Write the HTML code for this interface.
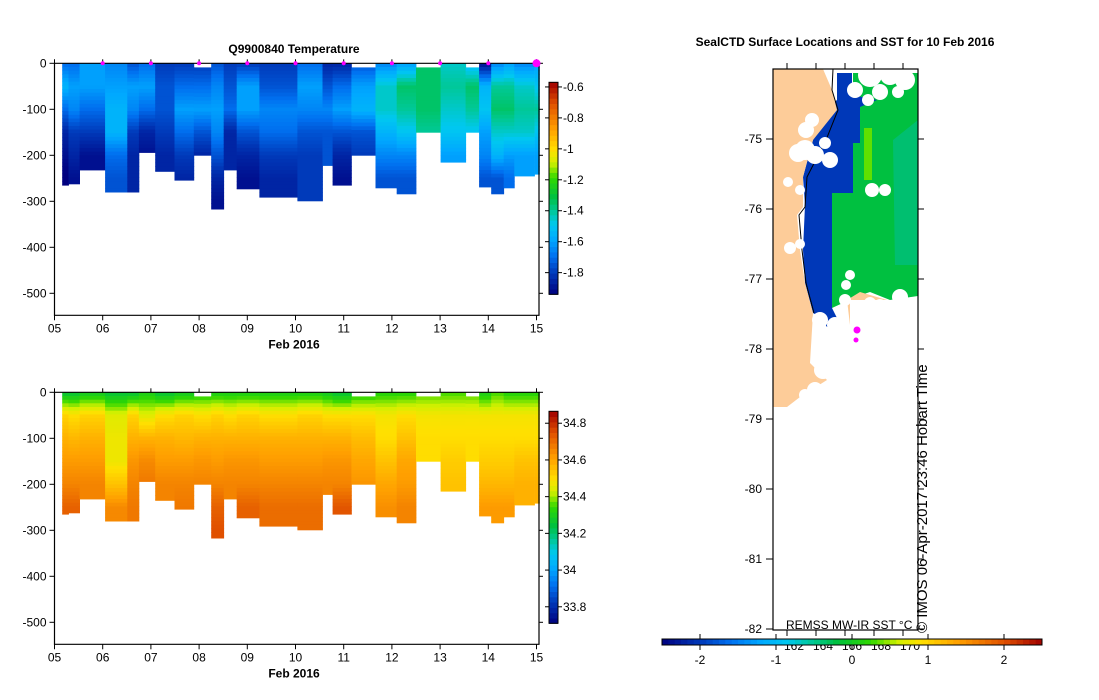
<!DOCTYPE html>
<html><head><meta charset="utf-8">
<style>
body{margin:0;background:#fff;}
svg{display:block;font-family:"Liberation Sans",sans-serif;}
</style></head>
<body>
<svg id="chart" width="1099" height="700" viewBox="0 0 1099 700" xmlns="http://www.w3.org/2000/svg">
<rect x="0" y="0" width="1099" height="700" fill="#fff"/>
<text x="294" y="53" font-size="12" font-weight="bold" text-anchor="middle">Q9900840  Temperature</text>
<text x="845" y="46" font-size="12" font-weight="bold" text-anchor="middle">SealCTD Surface Locations and SST for 10 Feb 2016</text>
<g id="temp-plot"></g>
<g id="sal-plot"></g>
<g id="map">
  <rect x="773" y="69" width="145" height="561" fill="#fff"/>
  <polygon fill="#00c040" points="853,73 918,73 918,296 890,300 870,292 858,296 832,308 832,193 853,193"/>
  <polygon fill="#00bf70" points="893,140 918,120 918,265 895,265"/>
  <polygon fill="#60e000" points="864,128 872,128 872,180 864,180"/>
  <polygon fill="#0038b8" points="837,73 852,73 852,95 877,100 860,107 860,143 853,143 853,193 832,193 832,308 837,318 833,327 827,327 820,317 813,313 805,283 803,250 805,205 803,177 813,140 823,110 837,100"/>
  <polygon fill="#fdcc99" points="773,69 823,69 832,90 837,110 813,140 803,177 803,207 797,215 800,250 805,283 813,313 810,363 827,380 800,397 787,407 773,407"/>
  <polygon fill="#fdcc99" points="847,300 860,292 887,300 885,320 870,327 850,325"/>
  <polyline fill="none" stroke="#000" stroke-width="1" points="833,69 832,90 838,110 826,140 807,177 805,207 799,215 802,250 806,283 814,313"/>
  <g id="clouds" fill="#fff"></g>
  <circle cx="857" cy="330" r="3.5" fill="#ff00ff"/>
  <circle cx="856" cy="340" r="2.5" fill="#ff00ff"/>
  <rect x="773" y="69" width="145" height="561" fill="none" stroke="#000" stroke-width="1.2"/>
  <text x="786" y="629" font-size="12">REMSS MW-IR SST °C</text>
  <text transform="translate(927,633) rotate(-90)" font-size="15">© IMOS 06-Apr-2017 23:46 Hobart Time</text>
</g>
<g id="sst-cbar"></g>
</svg>
<script>
// ---- data ----
const depthLevels = [0,50,100,150,200,250,300];
const colStart = [0.16,0.29,0.52,1.05,1.51,1.75,2.09,2.49,2.89,3.25,3.51,3.78,4.25,5.04,5.56,5.77,6.16,6.66,7.10,7.50,8.01,8.53,8.81,9.06,9.32,9.54,9.96];
const colEnd   = [0.29,0.52,1.05,1.51,1.75,2.09,2.49,2.89,3.25,3.51,3.78,4.25,5.04,5.56,5.77,6.16,6.66,7.10,7.50,8.01,8.53,8.81,9.06,9.32,9.54,9.96,10.06];
const colTop   = [0,0,0,0,0,0,0,0,9,0,0,0,0,0,0,0,9,0,0,9,0,9,0,0,0,0,0];
const colBottom= [265,262,232,280,280,194,235,254,200,317,232,273,291,299,222,265,200,271,284,150,215,150,269,284,271,245,241];
const tempProfiles = [
[-1.7,-1.55,-1.7,-1.85,-1.9,-1.95],[-1.7,-1.6,-1.65,-1.8,-1.85,-1.9],[-1.6,-1.6,-1.7,-1.8,-1.9],
[-1.65,-1.6,-1.55,-1.55,-1.7,-1.75],[-1.75,-1.6,-1.65,-1.8,-1.85,-1.85],[-1.7,-1.6,-1.7,-1.85,-1.9],
[-1.8,-1.75,-1.75,-1.8,-1.85],[-1.8,-1.7,-1.6,-1.7,-1.8,-1.85],[-1.8,-1.7,-1.6,-1.75,-1.85],
[-1.75,-1.65,-1.6,-1.65,-1.75,-1.85,-1.9],[-1.8,-1.75,-1.7,-1.85,-1.85],[-1.8,-1.6,-1.6,-1.75,-1.85,-1.9],
[-1.8,-1.75,-1.65,-1.7,-1.8,-1.85],[-1.7,-1.6,-1.65,-1.75,-1.8,-1.8],[-1.85,-1.75,-1.65,-1.75,-1.75],
[-1.85,-1.7,-1.6,-1.75,-1.85,-1.9],[-1.75,-1.6,-1.55,-1.75,-1.8],[-1.65,-1.45,-1.45,-1.55,-1.65,-1.75],
[-1.6,-1.35,-1.4,-1.5,-1.65,-1.75],[-1.35,-1.35,-1.35,-1.4],[-1.45,-1.4,-1.45,-1.5,-1.6],
[-1.55,-1.35,-1.4,-1.5],[-1.9,-1.55,-1.5,-1.6,-1.65,-1.75],[-1.65,-1.4,-1.35,-1.45,-1.55,-1.75],
[-1.6,-1.4,-1.35,-1.45,-1.6,-1.7],[-1.65,-1.45,-1.4,-1.45,-1.6],[-1.6,-1.5,-1.4,-1.5,-1.6]];
const salProfiles = [
[34.25,34.52,34.58,34.62,34.66,34.72],[34.25,34.5,34.57,34.62,34.66,34.72],[34.28,34.52,34.58,34.62,34.66],
[34.25,34.45,34.47,34.47,34.55,34.65],[34.25,34.52,34.58,34.63,34.66,34.68],[34.3,34.45,34.58,34.65,34.68],
[34.25,34.5,34.58,34.62,34.66],[34.28,34.52,34.57,34.62,34.66,34.68],[34.3,34.5,34.58,34.63,34.66],
[34.3,34.52,34.58,34.62,34.66,34.72,34.75],[34.3,34.5,34.58,34.63,34.66],[34.3,34.52,34.58,34.63,34.66,34.72],
[34.3,34.5,34.58,34.62,34.66,34.7],[34.3,34.52,34.58,34.62,34.66,34.7],[34.28,34.5,34.58,34.63,34.66],
[34.25,34.5,34.58,34.63,34.66,34.74],[34.3,34.5,34.56,34.6,34.63],[34.32,34.48,34.5,34.55,34.6,34.64],
[34.32,34.5,34.55,34.6,34.62,34.66],[34.35,34.48,34.5,34.5],[34.35,34.48,34.5,34.53,34.55],
[34.35,34.48,34.5,34.5],[34.3,34.48,34.5,34.53,34.57,34.62],[34.35,34.48,34.5,34.53,34.57,34.62],
[34.32,34.48,34.5,34.53,34.57,34.62],[34.32,34.48,34.5,34.55,34.58],[34.32,34.48,34.5,34.55,34.58]];
const dayLabels = ["05","06","07","08","09","10","11","12","13","14","15"];
const depthTicks = [0,-100,-200,-300,-400,-500];
const tempTicks = [-0.6,-0.8,-1,-1.2,-1.4,-1.6,-1.8];
const salTicks = [34.8,34.6,34.4,34.2,34,33.8];
const sstTicks = [-2,-1,0,1,2];
const latTicks = [-75,-76,-77,-78,-79,-80,-81,-82];
const lonLabels = ["162","164","166","168","170"];
const seaLocDays = [1,2,3,4,5,6,7,8,9,10];

const NS="http://www.w3.org/2000/svg";
const stops=[[0,"#00007f"],[0.1,"#0038b8"],[0.18,"#0070f0"],[0.26,"#00a8ff"],[0.33,"#00c8f0"],[0.40,"#00c890"],[0.46,"#00c040"],[0.55,"#30d800"],[0.62,"#d0f000"],[0.68,"#ffe000"],[0.78,"#ffa000"],[0.9,"#e05000"],[1,"#a00000"]];
function hex(h){return [1,3,5].map(i=>parseInt(h.substr(i,2),16));}
function cmap(t){t=Math.max(0,Math.min(1,t));for(let i=1;i<stops.length;i++){if(t<=stops[i][0]){const a=stops[i-1],b=stops[i];const f=(t-a[0])/(b[0]-a[0]);const ca=hex(a[1]),cb=hex(b[1]);return "rgb("+ca.map((v,k)=>Math.round(v+(cb[k]-v)*f)).join(",")+")";}}return stops[stops.length-1][1];}
function mk(tag,attrs,parent){const e=document.createElementNS(NS,tag);for(const k in attrs)e.setAttribute(k,attrs[k]);parent.appendChild(e);return e;}
function interp(prof,d){const i=Math.min(Math.floor(d/50),prof.length-1);if(i>=prof.length-1)return prof[prof.length-1];const f=(d-i*50)/50;return prof[i]+(prof[i+1]-prof[i])*f;}

const xL=54.5, pxDay=48.2;
function xs(day){return xL+day*pxDay;}

function section(g,y0,profiles,vmin,vmax,cbTicks,fmt,withMarkers){
  const ys=d=>y0+d*0.46;
  for(let c=0;c<colStart.length;c++){
    const x1=xs(colStart[c]),x2=xs(colEnd[c]);
    for(let d=colTop[c];d<colBottom[c];d+=8){
      const d2=Math.min(d+8,colBottom[c]);
      const v=interp(profiles[c],d+4);
      const r=mk("rect",{x:x1.toFixed(1),y:ys(d).toFixed(1),width:(x2-x1+0.4).toFixed(1),height:(ys(d2)-ys(d)+0.4).toFixed(1),fill:cmap((v-vmin)/(vmax-vmin))},g);
      
      
    }
  }
  const bot=y0+252, right=539;
  mk("polyline",{points:`${xL},${y0} ${xL},${bot} ${right},${bot} ${right},${y0} ${xL},${y0}`,fill:"none",stroke:"#000","stroke-width":1.2},g);
  dayLabels.forEach((lab,i)=>{const x=xs(i);mk("line",{x1:x,x2:x,y1:bot,y2:bot+5,stroke:"#000"},g);mk("line",{x1:x,x2:x,y1:y0,y2:y0-4,stroke:"#000"},g);
    const t=mk("text",{x:x,y:bot+17,"font-size":12,"text-anchor":"middle"},g);t.textContent=lab;
    });
  const xt=mk("text",{x:294,y:bot+33,"font-size":12,"font-weight":"bold","text-anchor":"middle"},g);xt.textContent="Feb 2016";
  
  depthTicks.forEach(v=>{const y=ys(-v);mk("line",{x1:xL-5,x2:xL,y1:y,y2:y,stroke:"#000"},g);mk("line",{x1:right,x2:right+4,y1:y,y2:y,stroke:"#000"},g);
    const t=mk("text",{x:xL-8,y:y+4,"font-size":12,"text-anchor":"end"},g);t.textContent=v;
    });
  if(withMarkers){seaLocDays.forEach(dd=>{const m=mk("circle",{cx:xs(dd),cy:y0,r:dd==10?4:2,fill:"#ff00ff"},g);
    });}
  const cbTop=y0+19, cbBot=y0+231, cx1=549, cx2=558;
  const cb=mk("g",{},g);
  const n=40;for(let i=0;i<n;i++){const y=cbBot-(i+1)*(cbBot-cbTop)/n;mk("rect",{x:cx1,y:y.toFixed(1),width:cx2-cx1,height:((cbBot-cbTop)/n+0.5).toFixed(1),fill:cmap((i+0.5)/n)},cb);}
  mk("rect",{x:cx1,y:cbTop,width:cx2-cx1,height:cbBot-cbTop,fill:"none",stroke:"#000"},cb);
  cbTicks.forEach(v=>{const y=cbBot-(v-vmin)/(vmax-vmin)*(cbBot-cbTop);mk("line",{x1:cx2,x2:cx2+4,y1:y,y2:y,stroke:"#000"},cb);mk("line",{x1:cx1-4,x2:cx1,y1:y,y2:y,stroke:"#000"},cb);
    const t=mk("text",{x:cx2+5,y:y+4,"font-size":12},cb);t.textContent=fmt(v);
    });
}
section(document.getElementById("temp-plot"),63.3,tempProfiles,-1.94,-0.57,tempTicks,v=>String(v),true);
section(document.getElementById("sal-plot"),392.3,salProfiles,33.71,34.865,salTicks,v=>String(v),false);

const mg=document.getElementById("map");
const latY=v=>139+(-75-v)*70;
latTicks.forEach(v=>{const y=latY(v);mk("line",{x1:766,x2:773,y1:y,y2:y,stroke:"#000"},mg);mk("line",{x1:918,x2:924,y1:y,y2:y,stroke:"#000"},mg);
  const t=mk("text",{x:762,y:y+4,"font-size":12,"text-anchor":"end"},mg);t.textContent=v;
  });
lonLabels.forEach((lab,i)=>{const x=787+i*29;mk("line",{x1:x,x2:x,y1:63,y2:69,stroke:"#000"},mg);mk("line",{x1:x,x2:x,y1:630,y2:636,stroke:"#000"},mg);
  const t=mk("text",{x:x+7,y:650,"font-size":12,"text-anchor":"middle"},mg);t.textContent=lab;
  });
const cl=document.getElementById("clouds");
[[870,75,12],[890,75,10],[905,80,10],[855,90,8],[880,92,8],[898,92,6],[868,100,6],[812,120,7],[806,130,8],[805,150,10],[815,155,9],[825,143,6],[830,160,8],[798,153,9],[788,182,5],[800,190,5],[872,190,7],[885,190,6],[790,248,6],[800,244,5],[850,275,5],[846,285,5],[845,300,6],[900,297,8],[880,305,6],[870,303,6],[820,320,8],[835,325,8],[850,340,10],[830,345,10],[840,360,12],[823,370,9],[845,375,8],[805,395,6],[815,390,8]].forEach(c=>{
  const e=mk("circle",{cx:c[0],cy:c[1],r:c[2]},cl);});
mk("rect",{x:850,y:300,width:68,height:100},cl);
mk("rect",{x:828,y:330,width:40,height:70},cl);

const sg=document.getElementById("sst-cbar");
const sx=v=>852+v*76, cbx1=sx(-2.5), cbx2=sx(2.5);
const n=60;for(let i=0;i<n;i++){mk("rect",{x:(cbx1+i*(cbx2-cbx1)/n).toFixed(1),y:639,width:((cbx2-cbx1)/n+0.5).toFixed(1),height:6,fill:cmap((i+0.5)/n)},sg);}
mk("rect",{x:cbx1,y:639,width:cbx2-cbx1,height:6,fill:"none",stroke:"#000"},sg);
sstTicks.forEach(v=>{const x=sx(v);mk("line",{x1:x,x2:x,y1:634,y2:639,stroke:"#000"},sg);mk("line",{x1:x,x2:x,y1:645,y2:650,stroke:"#000"},sg);
  const t=mk("text",{x:x,y:664,"font-size":12,"text-anchor":"middle"},sg);t.textContent=v;
  });
</script>
</body></html>
